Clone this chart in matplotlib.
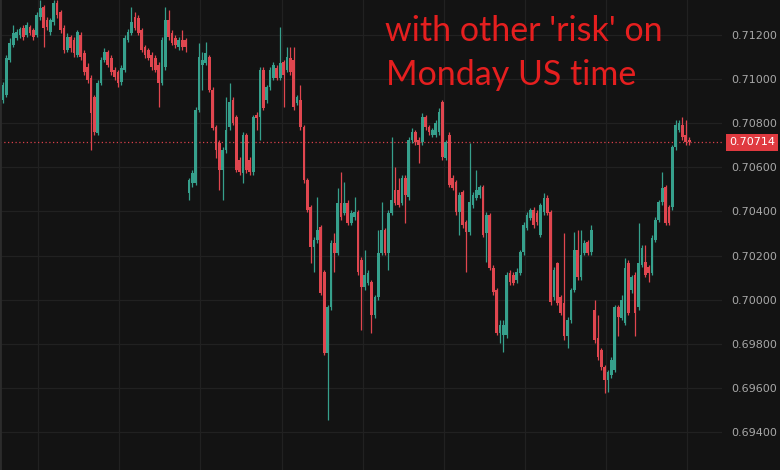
import numpy as np
import matplotlib.pyplot as plt
from matplotlib.transforms import blended_transform_factory

# hourly candles
opens = [
    0.70905, 0.70928, 0.71087, 0.71155, 0.71186, 0.71200, 0.71232, 0.71200, 0.71236, 0.71223,
    0.71200, 0.71282, 0.71327, 0.71268, 0.71214, 0.71259, 0.71345, 0.71304, 0.71232, 0.71132,
    0.71191, 0.71177, 0.71109, 0.71200, 0.71118, 0.71055, 0.71005, 0.70919, 0.70756, 0.70982,
    0.71087, 0.71123, 0.71096, 0.71041, 0.71032, 0.70987, 0.71041, 0.71177, 0.71209, 0.71282,
    0.71277, 0.71223, 0.71146, 0.71132, 0.71109, 0.71096, 0.71064, 0.70982, 0.71055, 0.71268,
    0.71209, 0.71186, 0.71146, 0.71177, 0.71177, 0.70483, 0.70529, 0.70529, 0.70860, 0.71064,
    0.71073, 0.71100, 0.70951, 0.70783, 0.70710, 0.70588, 0.70678, 0.70783, 0.70905, 0.70828,
    0.70633, 0.70574, 0.70747, 0.70633, 0.70579, 0.70837, 0.70828, 0.71041, 0.70905, 0.70964,
    0.71005, 0.71050, 0.71005, 0.71078, 0.71041, 0.71096, 0.71087, 0.70892, 0.70905, 0.70783,
    0.70542, 0.70420, 0.70239, 0.70270, 0.70329, 0.70125, 0.69758, 0.69966, 0.70257, 0.70211,
    0.70438, 0.70393, 0.70438, 0.70347, 0.70375, 0.70397, 0.70180, 0.70057, 0.70075, 0.70080,
    0.69930, 0.70012, 0.70211, 0.70316, 0.70211, 0.70393, 0.70497, 0.70497, 0.70438, 0.70551,
    0.70465, 0.70724, 0.70760, 0.70724, 0.70715, 0.70828, 0.70783, 0.70747, 0.70747, 0.70760,
    0.70896, 0.70642, 0.70747, 0.70551, 0.70533, 0.70397, 0.70488, 0.70352, 0.70307, 0.70429,
    0.70461, 0.70474, 0.70511, 0.70302, 0.70384, 0.70143, 0.70044, 0.69849, 0.69840, 0.69840,
    0.70121, 0.70112, 0.70089, 0.70121, 0.70216, 0.70325, 0.70370, 0.70406, 0.70393, 0.70293,
    0.70397, 0.70461, 0.70397, 0.70012, 0.70166, 0.70012, 0.69985, 0.69834, 0.69908, 0.70044,
    0.70225, 0.70103, 0.70211, 0.70261, 0.70216, 0.69953, 0.69826, 0.69771, 0.69694, 0.69635,
    0.69658, 0.69681, 0.69966, 0.69917, 0.69894, 0.70166, 0.70044, 0.70112, 0.69966, 0.70157,
    0.70171, 0.70148, 0.70121, 0.70270, 0.70361, 0.70443, 0.70511, 0.70420, 0.70420, 0.70692,
    0.70769, 0.70792, 0.70747, 0.70724,
]
highs = [
    0.70987, 0.71109, 0.71186, 0.71245, 0.71227, 0.71236, 0.71245, 0.71259, 0.71245, 0.71232,
    0.71304, 0.71359, 0.71336, 0.71282, 0.71277, 0.71359, 0.71359, 0.71313, 0.71245, 0.71209,
    0.71200, 0.71191, 0.71223, 0.71214, 0.71132, 0.71073, 0.71019, 0.70928, 0.70996, 0.71100,
    0.71141, 0.71132, 0.71109, 0.71055, 0.71041, 0.71064, 0.71200, 0.71227, 0.71327, 0.71304,
    0.71291, 0.71232, 0.71155, 0.71141, 0.71123, 0.71109, 0.71078, 0.71191, 0.71327, 0.71313,
    0.71223, 0.71200, 0.71191, 0.71223, 0.71186, 0.70551, 0.70588, 0.70873, 0.71164, 0.71123,
    0.71168, 0.71109, 0.70964, 0.70792, 0.70724, 0.70692, 0.70919, 0.70982, 0.70919, 0.70837,
    0.70647, 0.70760, 0.70756, 0.70647, 0.70837, 0.70851, 0.71055, 0.71055, 0.70973, 0.71055,
    0.71078, 0.71064, 0.71236, 0.71087, 0.71146, 0.71146, 0.71146, 0.70928, 0.70973, 0.70792,
    0.70551, 0.70429, 0.70284, 0.70465, 0.70338, 0.70134, 0.69976, 0.70270, 0.70302, 0.70506,
    0.70579, 0.70533, 0.70452, 0.70406, 0.70465, 0.70406, 0.70193, 0.70225, 0.70134, 0.70089,
    0.70021, 0.70316, 0.70443, 0.70325, 0.70406, 0.70737, 0.70601, 0.70551, 0.70565, 0.70565,
    0.70737, 0.70778, 0.70769, 0.70737, 0.70846, 0.70837, 0.70792, 0.70778, 0.70815, 0.70869,
    0.70905, 0.70724, 0.70760, 0.70565, 0.70542, 0.70488, 0.70497, 0.70361, 0.70710, 0.70488,
    0.70588, 0.70520, 0.70520, 0.70397, 0.70393, 0.70157, 0.70053, 0.69908, 0.69908, 0.70125,
    0.70134, 0.70125, 0.70143, 0.70225, 0.70352, 0.70397, 0.70415, 0.70420, 0.70406, 0.70438,
    0.70483, 0.70474, 0.70406, 0.70148, 0.70171, 0.70021, 0.70302, 0.69921, 0.70053, 0.70307,
    0.70316, 0.70316, 0.70270, 0.70270, 0.70338, 0.69998, 0.69930, 0.69781, 0.69703, 0.69681,
    0.69740, 0.69976, 0.69976, 0.70021, 0.70189, 0.70180, 0.70112, 0.70125, 0.70347, 0.70248,
    0.70248, 0.70157, 0.70293, 0.70375, 0.70452, 0.70579, 0.70520, 0.70429, 0.70701, 0.70815,
    0.70815, 0.70828, 0.70815, 0.70737,
]
lows = [
    0.70892, 0.70919, 0.71078, 0.71146, 0.71177, 0.71186, 0.71177, 0.71191, 0.71200, 0.71177,
    0.71191, 0.71268, 0.71146, 0.71223, 0.71200, 0.71245, 0.71277, 0.71209, 0.71118, 0.71123,
    0.71123, 0.71100, 0.71100, 0.71087, 0.71019, 0.70982, 0.70678, 0.70747, 0.70747, 0.70973,
    0.71078, 0.71055, 0.71019, 0.70996, 0.70964, 0.70973, 0.71032, 0.71168, 0.71200, 0.71223,
    0.71200, 0.71123, 0.71096, 0.71087, 0.71041, 0.71032, 0.70873, 0.70973, 0.71041, 0.71177,
    0.71155, 0.71141, 0.71132, 0.71132, 0.71123, 0.70452, 0.70511, 0.70520, 0.70851, 0.70951,
    0.71064, 0.70942, 0.70769, 0.70642, 0.70497, 0.70452, 0.70665, 0.70769, 0.70792, 0.70579,
    0.70565, 0.70529, 0.70574, 0.70565, 0.70565, 0.70769, 0.70724, 0.70860, 0.70892, 0.70951,
    0.70996, 0.70996, 0.70996, 0.70873, 0.71032, 0.71019, 0.70860, 0.70883, 0.70769, 0.70529,
    0.70397, 0.70166, 0.70125, 0.70257, 0.70021, 0.69749, 0.69454, 0.69953, 0.70125, 0.70202,
    0.70361, 0.70384, 0.70338, 0.70338, 0.70361, 0.70112, 0.69862, 0.70044, 0.70066, 0.69849,
    0.69917, 0.69998, 0.70202, 0.70202, 0.70134, 0.70384, 0.70429, 0.70420, 0.70429, 0.70347,
    0.70452, 0.70710, 0.70701, 0.70620, 0.70701, 0.70769, 0.70747, 0.70737, 0.70737, 0.70747,
    0.70633, 0.70633, 0.70511, 0.70497, 0.70384, 0.70293, 0.70325, 0.70125, 0.70293, 0.70415,
    0.70452, 0.70461, 0.70284, 0.70171, 0.70134, 0.70021, 0.69840, 0.69803, 0.69762, 0.69826,
    0.70066, 0.70066, 0.70075, 0.70112, 0.70202, 0.70316, 0.70361, 0.70325, 0.70338, 0.70284,
    0.70384, 0.70384, 0.69976, 0.69998, 0.69976, 0.69930, 0.69817, 0.69781, 0.69894, 0.70034,
    0.70089, 0.70089, 0.70202, 0.70202, 0.70202, 0.69803, 0.69726, 0.69681, 0.69576, 0.69581,
    0.69644, 0.69672, 0.69834, 0.69908, 0.69885, 0.69930, 0.70030, 0.69834, 0.69953, 0.70148,
    0.70103, 0.70080, 0.70112, 0.70261, 0.70352, 0.70429, 0.70338, 0.70338, 0.70406, 0.70678,
    0.70760, 0.70724, 0.70701, 0.70701,
]
closes = [
    0.70973, 0.71096, 0.71164, 0.71209, 0.71214, 0.71227, 0.71191, 0.71245, 0.71209, 0.71191,
    0.71291, 0.71322, 0.71232, 0.71236, 0.71268, 0.71345, 0.71291, 0.71223, 0.71132, 0.71191,
    0.71141, 0.71118, 0.71214, 0.71100, 0.71032, 0.70996, 0.70846, 0.70760, 0.70982, 0.71087,
    0.71123, 0.71064, 0.71032, 0.71010, 0.70982, 0.71050, 0.71186, 0.71214, 0.71259, 0.71232,
    0.71209, 0.71132, 0.71109, 0.71096, 0.71055, 0.71041, 0.70982, 0.71177, 0.71268, 0.71191,
    0.71164, 0.71155, 0.71177, 0.71146, 0.71146, 0.70542, 0.70574, 0.70860, 0.71100, 0.71087,
    0.71118, 0.70951, 0.70778, 0.70678, 0.70588, 0.70678, 0.70769, 0.70896, 0.70801, 0.70588,
    0.70579, 0.70747, 0.70588, 0.70579, 0.70828, 0.70824, 0.71041, 0.70869, 0.70964, 0.71041,
    0.71064, 0.71005, 0.71073, 0.71019, 0.71100, 0.71032, 0.70873, 0.70919, 0.70783, 0.70542,
    0.70406, 0.70239, 0.70270, 0.70316, 0.70030, 0.69758, 0.69966, 0.70257, 0.70211, 0.70438,
    0.70375, 0.70438, 0.70347, 0.70393, 0.70397, 0.70125, 0.70057, 0.70112, 0.70121, 0.69930,
    0.70012, 0.70211, 0.70316, 0.70211, 0.70393, 0.70452, 0.70438, 0.70429, 0.70551, 0.70474,
    0.70724, 0.70760, 0.70715, 0.70701, 0.70828, 0.70783, 0.70760, 0.70769, 0.70801, 0.70851,
    0.70647, 0.70715, 0.70520, 0.70506, 0.70397, 0.70474, 0.70338, 0.70307, 0.70443, 0.70474,
    0.70497, 0.70511, 0.70293, 0.70384, 0.70143, 0.70034, 0.69849, 0.69885, 0.69885, 0.70112,
    0.70080, 0.70075, 0.70125, 0.70216, 0.70338, 0.70384, 0.70406, 0.70338, 0.70352, 0.70429,
    0.70461, 0.70393, 0.69989, 0.70134, 0.69985, 0.69939, 0.69834, 0.69908, 0.70044, 0.70225,
    0.70103, 0.70202, 0.70257, 0.70211, 0.70316, 0.69817, 0.69740, 0.69694, 0.69635, 0.69672,
    0.69726, 0.69966, 0.69921, 0.69998, 0.70143, 0.69939, 0.70103, 0.69939, 0.70166, 0.70234,
    0.70112, 0.70121, 0.70279, 0.70361, 0.70443, 0.70506, 0.70347, 0.70347, 0.70692, 0.70792,
    0.70801, 0.70737, 0.70715, 0.70714,
]
price_ticks = [0.694, 0.696, 0.698, 0.700, 0.702, 0.704, 0.706, 0.708, 0.710, 0.712]
last_price = 0.70714
note_lines = ["with other 'risk' on", "Monday US time"]

bg = '#131313'
up_col = '#36a08c'
down_col = '#e0464f'

o = np.array(opens)
h = np.array(highs)
l = np.array(lows)
c = np.array(closes)
idx = np.arange(len(o))
cols = np.where(c >= o, up_col, down_col)

fig = plt.figure(figsize=(7.8, 4.7), dpi=100, facecolor=bg)
ax = fig.add_axes([0, 0, 722 / 780, 1])
ax.set_facecolor(bg)

# wicks then bodies
ax.vlines(idx, l, h, colors=cols, linewidth=0.9, zorder=3)
body_lo = np.minimum(o, c)
body_h = np.maximum(np.abs(c - o), 0.00003)
ax.bar(idx, body_h, bottom=body_lo, width=0.8, color=cols, linewidth=0, zorder=4)

ax.set_xlim(-0.9, 212.7)
ax.set_ylim(0.69227, 0.71359)

# day separators and price grid
ax.set_xticks(np.arange(10.4, 212, 24))
ax.set_yticks(price_ticks)
ax.grid(True, color='#212121', linewidth=0.9, zorder=0)
ax.yaxis.tick_right()
ax.tick_params(axis='x', length=0, labelbottom=False)
ax.tick_params(axis='y', length=0, pad=6.5, labelsize=8, labelcolor='#a8a8a8')
ax.set_yticklabels(['%.5f' % t for t in price_ticks])
for s in ['top', 'right', 'bottom']:
    ax.spines[s].set_visible(False)
ax.spines['left'].set_color('#2c2c2c')
ax.spines['left'].set_linewidth(2)

# last price line and tag
ax.axhline(last_price, color='#d8404a', linewidth=0.9, linestyle=(0, (1, 2)), zorder=2)
trans = blended_transform_factory(ax.transAxes, ax.transData)
ax.annotate('%.5f' % last_price, xy=(1, last_price), xycoords=trans,
            xytext=(5, 0), textcoords='offset points', ha='left', va='center',
            fontsize=8, color='white', annotation_clip=False,
            bbox=dict(boxstyle='square,pad=0.3', fc='#e03a40', ec='none'))

fig.text(385 / 780, 1 - 31 / 470, note_lines[0], fontsize=24.5, color='#e51f1f',
         family=['Lato', 'DejaVu Sans'], va='center', ha='left')
fig.text(386 / 780, 1 - 75 / 470, note_lines[1], fontsize=24.5, color='#e51f1f',
         family=['Lato', 'DejaVu Sans'], va='center', ha='left')

fig.savefig('out.png', dpi=100, facecolor=bg)
